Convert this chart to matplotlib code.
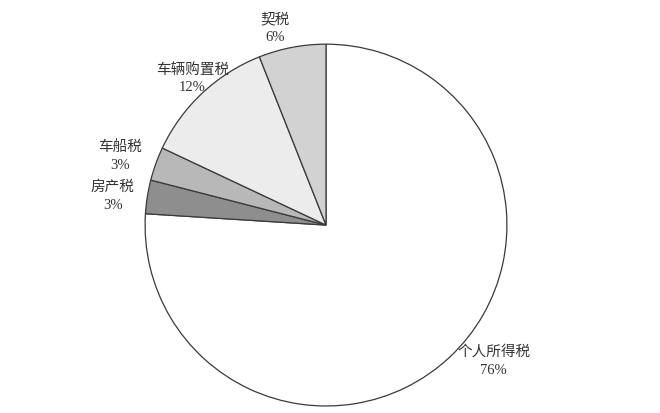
import matplotlib
matplotlib.use('Agg')
import matplotlib.pyplot as plt
import numpy as np

plt.rcParams['font.family'] = ['Liberation Serif', 'Noto Sans CJK SC']

labels = ['个人所得税', '房产税', '车船税', '车辆购置税', '契税']
shares = [76, 3, 3, 12, 6]
colors = ['#ffffff', '#8e8e8e', '#b8b8b8', '#ececec', '#d2d2d2']

# label placement (distance from centre, angle offset in degrees)
label_dist = [1.19, 1.19, 1.2, 1.1, 1.13]
label_shift = [8, 1, 1, -1, 3.5]

fig = plt.figure(figsize=(6.6, 4.14), dpi=100)
ax = fig.add_axes([0.2197, 0.0169, 0.5485, 0.874])

wedges, _ = ax.pie(shares, colors=colors, startangle=90, counterclock=False,
                   wedgeprops=dict(edgecolor='#3a3a3a', linewidth=0.9))

for w, lab, val, d, s in zip(wedges, labels, shares, label_dist, label_shift):
    mid = np.deg2rad((w.theta1 + w.theta2) / 2 + s)
    ax.text(d * np.cos(mid), d * np.sin(mid), f'{lab}\n{val}%',
            ha='center', va='center', fontsize=10.5, color='#333333',
            linespacing=1.45)

ax.set_xlim(-1, 1)
ax.set_ylim(-1, 1)
ax.set_aspect('equal')
ax.axis('off')

fig.savefig('out.png', dpi=100)
